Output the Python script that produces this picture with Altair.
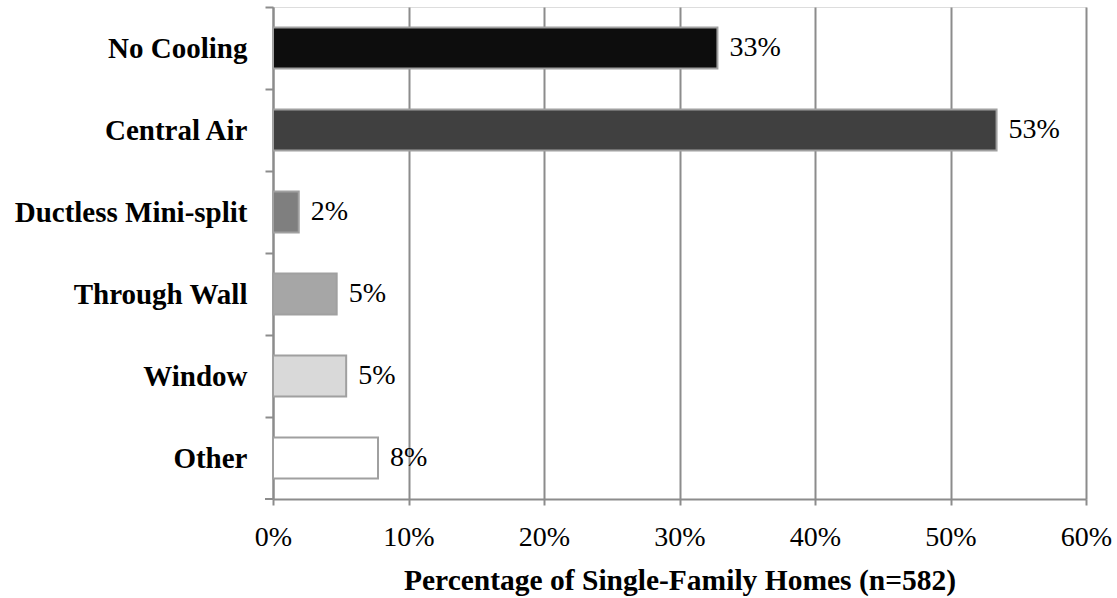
import altair as alt
import pandas as pd

categories = ["No Cooling", "Central Air", "Ductless Mini-split", "Through Wall", "Window", "Other"]
values = [0.328, 0.534, 0.019, 0.047, 0.054, 0.0775]
labels = ["33%", "53%", "2%", "5%", "5%", "8%"]
colors = ["#0d0d0d", "#404040", "#7f7f7f", "#a6a6a6", "#d9d9d9", "#ffffff"]
x_ticks = [0, 0.1, 0.2, 0.3, 0.4, 0.5, 0.6]

df = pd.DataFrame({"cat": categories, "val": values, "lab": labels})

W, H = 813, 492
STEP = H / len(categories)
GRAY = "#8c8c8c"
FONT = "Liberation Serif"

x = alt.X(
    "val:Q",
    scale=alt.Scale(domain=[0, 0.6], nice=False),
    axis=alt.Axis(
        values=x_ticks, format=".0%", grid=True, gridColor=GRAY, gridWidth=2,
        domainColor=GRAY, domainWidth=2, tickColor=GRAY, tickWidth=2, tickSize=6,
        labelFont=FONT, labelFontSize=28, labelColor="black", labelPadding=18,
        labelFlush=False,
        titleFont=FONT, titleFontSize=29.5, titleFontWeight="bold", titleColor="black",
        titlePadding=15,
    ),
    title="Percentage of Single-Family Homes (n=582)",
)
y = alt.Y(
    "cat:N",
    sort=categories,
    scale=alt.Scale(paddingInner=0.5, paddingOuter=0.25),
    axis=alt.Axis(
        title=None, tickOffset=-STEP / 2, labelOffset=STEP / 2,
        domainColor=GRAY, domainWidth=2,
        tickColor=GRAY, tickWidth=2, tickSize=8,
        labelFont=FONT, labelFontSize=29, labelFontWeight="bold", labelColor="black",
        labelPadding=18, labelLimit=0,
    ),
)

bars = alt.Chart(df).mark_bar(stroke="#a0a0a0", strokeWidth=2).encode(
    x=x, y=y,
    color=alt.Color("cat:N", scale=alt.Scale(domain=categories, range=colors), legend=None),
)
text = alt.Chart(df).mark_text(
    align="left", baseline="middle", dx=12, font=FONT, fontSize=28, color="black"
).encode(x="val:Q", y=alt.Y("cat:N", sort=categories), text="lab:N")

bottom_tick = alt.Chart(df).mark_rule(color=GRAY, strokeWidth=2).encode(
    x=alt.value(-8), x2=alt.value(0), y=alt.value(H)
)

chart = alt.layer(bars, text, bottom_tick).properties(
    width=W, height=H,
    autosize=alt.AutoSizeParams(type="none"),
    padding={"left": 273, "top": 7, "right": 31, "bottom": 99},
).configure_view(stroke=None).configure(background="white")

chart.save("out.html", embed_options={"renderer": "svg", "actions": False})
